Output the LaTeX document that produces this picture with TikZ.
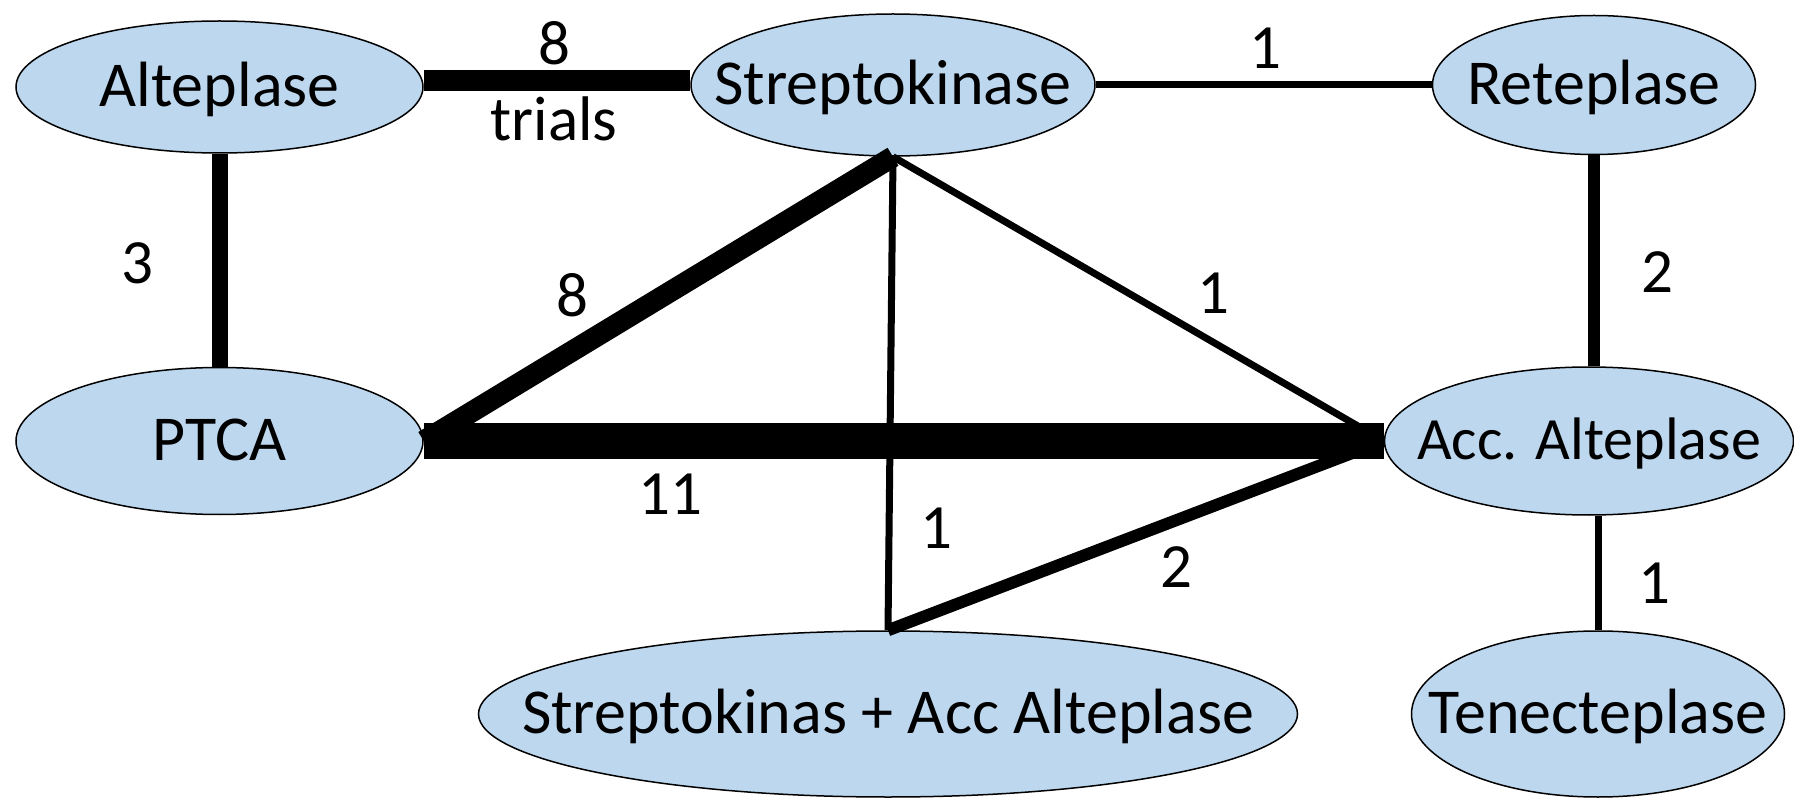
\documentclass[tikz,border=0pt]{standalone}
\usepackage{fontspec}
\setmainfont{Carlito}
\usetikzlibrary{shapes.geometric}
\definecolor{nodeblue}{HTML}{BDD7EE}
\newcommand{\ctext}[1]{\makebox[0pt]{\smash{\raisebox{-0.31em}{#1}}}}
\tikzset{
  drug/.style={ellipse, draw=black, line width=1.5pt, fill=nodeblue, inner sep=0pt, font=\fontsize{64}{76}\selectfont},
  edgelab/.style={font=\fontsize{63}{75}\selectfont, inner sep=0pt},
  w1/.style={line width=7pt},
  w2/.style={line width=12pt},
  w3/.style={line width=16pt},
  w8/.style={line width=21pt},
  w11/.style={line width=35pt}
}
\begin{document}
\begin{tikzpicture}[x=1pt,y=-1pt]
\useasboundingbox (0,0) rectangle (1794,799);
% nodes
\node[drug, minimum width=407pt, minimum height=132pt] (alt) at (219.5,87) {\ctext{Alteplase}};
\node[drug, minimum width=404pt, minimum height=142pt] (strep) at (893,85) {\ctext{Streptokinase}};
\node[drug, minimum width=323pt, minimum height=139pt] (ret) at (1594,85) {\ctext{Reteplase}};
\node[drug, minimum width=407pt, minimum height=147pt] (ptca) at (219.5,441) {\ctext{PTCA}};
\node[drug, minimum width=409pt, minimum height=148pt, font=\fontsize{60}{72}\selectfont] (acc) at (1589,441) {\ctext{Acc. Alteplase}};
\node[drug, minimum width=819pt, minimum height=166pt] (sa) at (888,714) {\ctext{Streptokinas + Acc Alteplase}};
\node[drug, minimum width=373pt, minimum height=166pt] (ten) at (1598,714) {\ctext{Tenecteplase}};
% connectors
\draw[w8] (alt.east) ++(0,-6) coordinate (a1) -- (a1 -| strep.west);
\draw[w1] (strep.east) -- (strep.east -| ret.west);
\draw[w3] (alt.south) -- (ptca.north);
\draw[w2] (ret.south) -- (ret.south |- acc.north);
\draw[w1] (ten.north |- acc.south) -- (ten.north);
\draw[w8] (ptca.east) -- (strep.south);
\draw[w1] (strep.south) -- (acc.west);
\draw[w1] (strep.south) -- (sa.north);
\draw[w2] (sa.north) -- (acc.west);
\draw[w11] (ptca.east) -- (acc.west);
% labels
\node[edgelab] (l1) at (554,43) {8};
\node[edgelab] (l2) at (554,119) {trials};
\node[edgelab] (l3) at (1265,48) {1};
\node[edgelab] (l4) at (137,263) {3};
\node[edgelab] (l5) at (1657,272) {2};
\node[edgelab] (l6) at (1654,583) {1};
\node[edgelab] (l7) at (670,494) {11};
\node[edgelab] (l8) at (572,295) {8};
\node[edgelab] (l9) at (1213,293) {1};
\node[edgelab] (l10) at (936,528) {1};
\node[edgelab] (l11) at (1176,567) {2};
\end{tikzpicture}
\end{document}
